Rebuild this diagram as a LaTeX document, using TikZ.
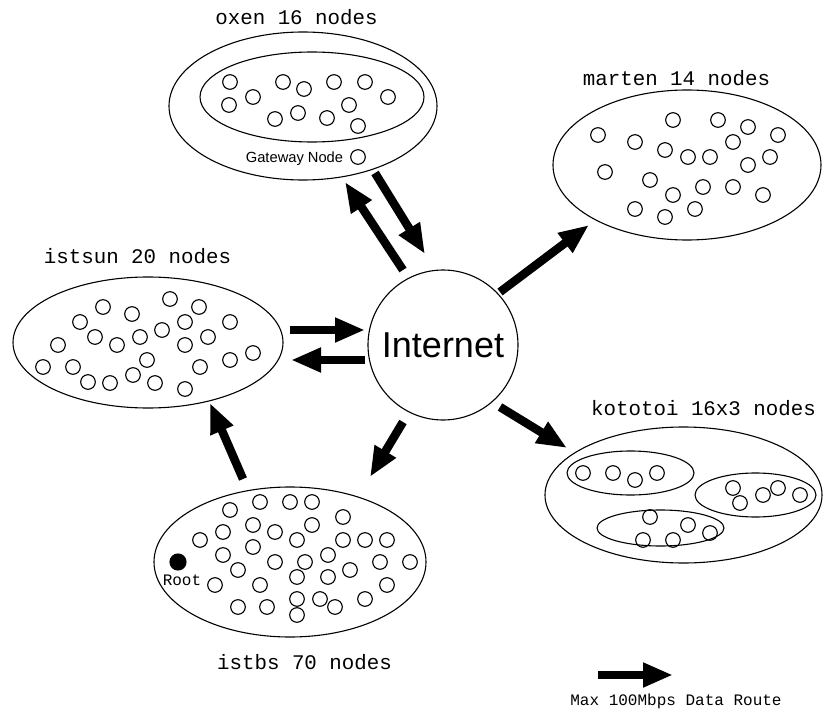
\documentclass[tikz,border=0pt]{standalone}
\usepackage{fontspec}
\setmainfont{Liberation Sans}
\newfontfamily\monofont{Liberation Mono}
\usetikzlibrary{shapes.geometric,arrows.meta}
\begin{document}
\begin{tikzpicture}[x={(1pt,0)},y={(0,-1pt)},
  pc/.style={circle,draw,line width=1.1pt,minimum size=14.6pt,inner sep=0pt},
  cluster/.style={ellipse,draw,line width=1.1pt,inner sep=0pt},
  title/.style={anchor=base,inner sep=0pt,font=\monofont\fontsize{20.8}{24}\selectfont},
  small/.style={anchor=base,inner sep=0pt,font=\monofont\fontsize{16}{19}\selectfont},
  route/.style={line width=8.5pt,-{Triangle[length=30pt,width=23pt]}}]
\useasboundingbox (0,0) rectangle (823,709);

% ---------- clusters ----------
\node[cluster,minimum width=268pt,minimum height=148pt] (oxen) at (303,106) {};
\node[cluster,minimum width=224pt,minimum height=90pt] (oxeninner) at (312,97) {};
\node[cluster,minimum width=268pt,minimum height=150pt] (marten) at (687,165) {};
\node[cluster,minimum width=270pt,minimum height=131pt] (istsun) at (148,342.5) {};
\node[cluster,minimum width=272pt,minimum height=150pt] (istbs) at (290,562) {};
\node[cluster,minimum width=277pt,minimum height=136pt] (kototoi) at (683.5,495) {};
\node[cluster,minimum width=127pt,minimum height=44pt] (k1) at (630.5,473) {};
\node[cluster,minimum width=121pt,minimum height=44pt] (k2) at (755.5,495) {};
\node[cluster,minimum width=127pt,minimum height=36pt] (k3) at (660.5,528) {};

\node[circle,draw,line width=1.1pt,minimum size=150pt,inner sep=0pt,
      font=\fontsize{36}{40}\selectfont] (inet) at (443,345) {Internet};

% ---------- titles ----------
\node[title] (toxen) at (296.5,25) {oxen 16 nodes};
\node[title] (tmarten) at (676.5,85) {marten 14 nodes};
\node[title] (tistsun) at (137.5,263) {istsun 20 nodes};
\node[title] (tistbs) at (304.5,669) {istbs 70 nodes};
\node[title] (tkototoi) at (703.5,415) {kototoi 16x3 nodes};

% ---------- oxen ----------
\foreach \x/\y [count=\i] in {230/82,229/105,253/97,283/82,304/89,334/82,365/82,
  388/97,349/105,298/113,275/119,327/118,358/126}
  \node[pc] (ox\i) at (\x,\y) {};
\node[pc] (gw) at (358,157) {};
\node[anchor=base,inner sep=0pt,font=\fontsize{14.7}{17}\selectfont] (gwtxt) at (294.5,162) {Gateway Node};

% ---------- marten ----------
\foreach \x/\y [count=\i] in {598/135,673/120,718/120,748/127,778/135,635/142,733/142,
  665/150,688/157,710/157,770/157,748/165,605/172,650/180,703/187,733/187,673/195,
  763/195,635/209,695/209,665/217}
  \node[pc] (ma\i) at (\x,\y) {};

% ---------- istsun ----------
\foreach \x/\y [count=\i] in {103/307,170/299,199/307,132/314,80/322,185/322,230/322,
  162/330,95/337,140/337,208/337,58/345,117/345,185/345,147/360,253/353,230/360,
  43/367,73/367,200/367,133/375,88/382,110/383,155/383,185/389}
  \node[pc] (is\i) at (\x,\y) {};

% ---------- istbs ----------
\foreach \x/\y [count=\i] in {230/510,260/502,290/502,312/502,343/517,253/525,312/525,
  223/532,275/532,200/540,297/540,343/540,365/540,387/540,253/547,223/555,328/555,
  275/562,305/562,380/562,410/562,238/570,350/570,297/577,328/577,215/585,260/585,
  387/585,297/599,320/599,365/599,238/607,267/607,335/607,297/615}
  \node[pc] (ib\i) at (\x,\y) {};
\node[pc,fill=black,minimum size=16pt] (root) at (178,562) {};
\node[small] (roottxt) at (182,585) {Root};

% ---------- kototoi ----------
\foreach \x/\y [count=\i] in {583/473,613/473,635/480,657/473,
  733/488,740/503,763/495,778/488,800/495,
  650/517,688/525,710/533,643/540,673/540}
  \node[pc] (ko\i) at (\x,\y) {};

% ---------- routes ----------
\coordinate (a1s) at (375,173); \coordinate (a1e) at (425,254);
\coordinate (a2s) at (403,270); \coordinate (a2e) at (345,182);
\coordinate (a3s) at (500,292); \coordinate (a3e) at (589,225);
\coordinate (a4s) at (290,330); \coordinate (a4e) at (365,330);
\coordinate (a5s) at (365,360); \coordinate (a5e) at (291,360);
\coordinate (a6s) at (500,407); \coordinate (a6e) at (567,448);
\coordinate (a7s) at (403,422); \coordinate (a7e) at (370,477);
\coordinate (a8s) at (243,479); \coordinate (a8e) at (210,403);
\draw[route] (a1s) -- (a1e);
\draw[route] (a2s) -- (a2e);
\draw[route] (a3s) -- (a3e);
\draw[route] (a4s) -- (a4e);
\draw[route] (a5s) -- (a5e);
\draw[route] (a6s) -- (a6e);
\draw[route] (a7s) -- (a7e);
\draw[route] (a8s) -- (a8e);

% ---------- legend ----------
\coordinate (ls) at (598,675); \coordinate (le) at (673,675);
\draw[route] (ls) -- (le);
\node[small] (legtxt) at (676,705) {Max 100Mbps Data Route};
\end{tikzpicture}
\end{document}
